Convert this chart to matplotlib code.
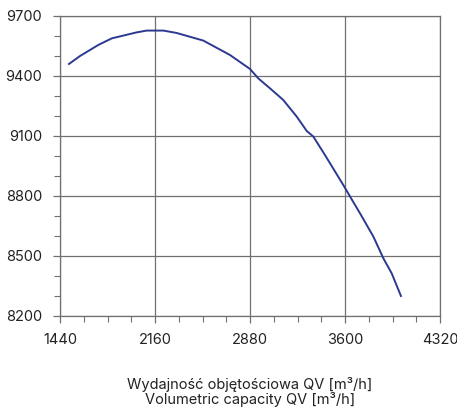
import matplotlib
matplotlib.use("Agg")
import matplotlib.pyplot as plt
from matplotlib.ticker import MultipleLocator

# Curve
qv = [1508, 1592, 1730, 1832, 2021, 2097, 2223, 2324, 2526, 2728,
      2880, 2943, 3032, 3132, 3234, 3310, 3360, 3448, 3587, 3651,
      3714, 3815, 3891, 3954, 4024]
val = [9460, 9500, 9555, 9588, 9618, 9627, 9627, 9615, 9577, 9505,
       9435, 9388, 9338, 9280, 9197, 9125, 9097, 9005, 8855, 8783,
       8713, 8597, 8488, 8413, 8300]

x_ticks = [1440, 2160, 2880, 3600, 4320]
y_ticks = [8200, 8500, 8800, 9100, 9400, 9700]

plt.rcParams['font.family'] = ['Inter', 'DejaVu Sans']

fig = plt.figure(figsize=(4.57, 4.16), dpi=100)
ax = fig.add_axes([0.1313, 0.2404, 0.8315, 0.7212])

ax.plot(qv, val, color='#2b3990', linewidth=1.4)

ax.set_xlim(1440, 4320)
ax.set_ylim(8200, 9700)
ax.set_xticks(x_ticks)
ax.set_yticks(y_ticks)
ax.xaxis.set_minor_locator(MultipleLocator(180))
ax.yaxis.set_minor_locator(MultipleLocator(100))

ax.grid(True, which='major', color='#707070', linewidth=0.9)
for s in ax.spines.values():
    s.set_color('#707070')
    s.set_linewidth(0.9)

ax.tick_params(which='both', direction='out', color='#707070', labelsize=10.5, labelcolor='#222222')
ax.tick_params(which='major', length=5, width=0.9)
ax.tick_params(which='minor', length=4, width=0.8)
ax.tick_params(axis='x', pad=7)
ax.tick_params(axis='y', pad=8)

fig.text(0.547, 1 - 392 / 416,
         "Wydajność objętościowa QV [m³/h]\nVolumetric capacity QV [m³/h]",
         ha='center', va='center', fontsize=10.5, color='#222222', linespacing=1.0)

fig.savefig("out.png", dpi=100)
